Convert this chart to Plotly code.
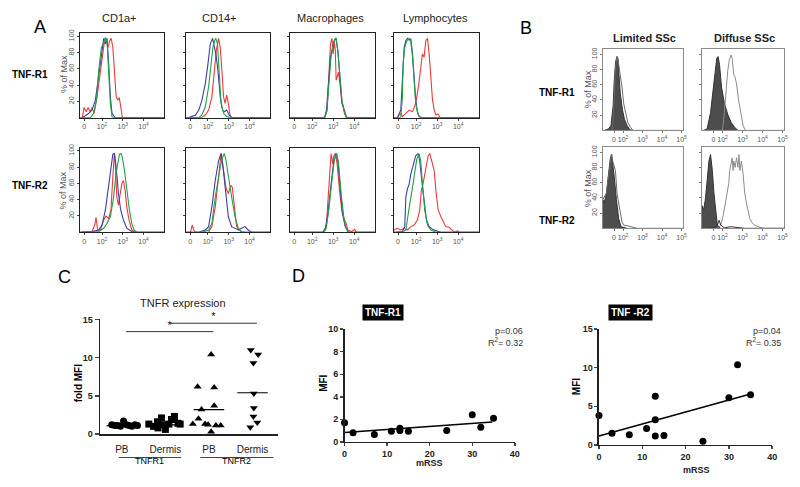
import plotly.graph_objects as go

W, H = 800, 487
FONT = "Liberation Sans"

# ================= Panel A data =================
# u: decade position on the flow axis (2 -> 10^2, 3 -> 10^3, 4 -> 10^4); v: % of Max
a_cols = ["CD1a+", "CD14+", "Macrophages", "Lymphocytes"]
a_rows = ["TNF-R1", "TNF-R2"]
a_xtick_u = [1.14, 2, 3, 4]
a_xtick_text = ["0", "10<sup>2</sup>", "10<sup>3</sup>", "10<sup>4</sup>"]
pct_ticks = [20, 40, 60, 80, 100]

# Row TNF-R1
a_r1_cd1a_red_u = [1.05, 1.14, 1.24, 1.33, 1.43, 1.52, 1.62, 1.76, 1.92, 2.05, 2.13, 2.21, 2.29, 2.37, 2.44, 2.52, 2.60, 2.68, 2.76, 2.83, 2.90, 2.98]
a_r1_cd1a_red_v = [0, 12.6, 7.3, 12.6, 7.3, 12.6, 5.3, 25.6, 58, 86.5, 96.7, 94.6, 86.5, 94.6, 97.5, 86.5, 58, 25.6, 21.5, 24.8, 13.4, 0]
a_r1_cd1a_blue_u = [1.05, 1.37, 1.52, 1.68, 1.84, 1.97, 2.08, 2.16, 2.24, 2.32, 2.40, 2.48, 2.63]
a_r1_cd1a_blue_v = [0, 5.3, 9.3, 21.5, 54, 78.4, 97.5, 90.7, 97.5, 66.2, 25.6, 5.3, 0]
a_r1_cd1a_green_u = [1.44, 1.60, 1.73, 1.84, 1.97, 2.08, 2.16, 2.24, 2.32, 2.40, 2.48, 2.56]
a_r1_cd1a_green_v = [0, 5.3, 21.5, 58, 86.5, 90.7, 98.7, 94.6, 58, 17.5, 1.2, 0]

a_r1_cd14_red_u = [1.71, 1.87, 2.03, 2.19, 2.32, 2.40, 2.51, 2.59, 2.67, 2.75, 2.83, 2.90, 2.98, 3.06, 3.14]
a_r1_cd14_red_v = [0, 3.2, 9.3, 25.6, 58, 82.4, 97.5, 86.5, 58, 25.6, 17.5, 27.6, 17.5, 3.2, 0]
a_r1_cd14_blue_u = [1.08, 1.40, 1.56, 1.71, 1.87, 2.0, 2.11, 2.22, 2.30, 2.38, 2.48, 2.59, 2.70, 2.79, 2.90, 3.02, 3.14]
a_r1_cd14_blue_v = [0, 3.2, 9.3, 21.5, 41.8, 66.2, 90.5, 97.5, 86.5, 78.4, 58, 25.6, 9.3, 7.3, 9.3, 3.2, 0]
a_r1_cd14_green_u = [1.56, 1.71, 1.87, 2.03, 2.16, 2.24, 2.32, 2.38, 2.46, 2.54, 2.63, 2.75, 2.90, 3.14]
a_r1_cd14_green_v = [0, 3.2, 13.4, 37.8, 66.2, 86.5, 94.6, 97.5, 90.5, 49.9, 17.5, 5.3, 1.2, 0]

a_r1_mac_red_u = [2.59, 2.71, 2.79, 2.87, 2.94, 3.0, 3.05, 3.10, 3.14, 3.19, 3.25, 3.32, 3.41, 3.54, 3.63, 3.73]
a_r1_mac_red_v = [0, 9.3, 58, 90.5, 97.5, 78.4, 94.6, 82.4, 45.9, 52, 56, 41.8, 17.5, 9.3, 1.2, 0]
a_r1_mac_blue_u = [2.59, 2.68, 2.78, 2.87, 2.97, 3.06, 3.13, 3.22, 3.32, 3.41, 3.54, 3.63]
a_r1_mac_blue_v = [0, 9.3, 41.8, 74.3, 86.5, 95.4, 97.5, 82.4, 49.9, 21.5, 5.3, 0]
a_r1_mac_green_u = [2.60, 2.70, 2.80, 2.89, 2.98, 3.07, 3.14, 3.23, 3.33, 3.42, 3.55, 3.64]
a_r1_mac_green_v = [0, 8, 40, 73, 87, 96, 98, 80, 48, 20, 5, 0]

a_r1_lym_red_u = [1.11, 1.19, 1.27, 1.35, 1.51, 1.67, 1.83, 1.98, 2.11, 2.22, 2.30, 2.38, 2.46, 2.54, 2.62, 2.70, 2.78, 2.86, 2.94, 3.05, 3.13]
a_r1_lym_red_v = [0, 3.2, 5.3, 1.2, 5.3, 9.3, 7.3, 17.5, 37.8, 66.2, 78.4, 74.3, 94.6, 97.5, 78.4, 49.9, 21.5, 9.3, 3.2, 4.5, 0]
a_r1_lym_blue_u = [1.11, 1.27, 1.35, 1.43, 1.51, 1.59, 1.67, 1.75, 1.83, 1.90, 1.98, 2.06, 2.14, 2.30]
a_r1_lym_blue_v = [0, 9.3, 58, 86.5, 94.6, 97.5, 95.4, 96.6, 78.4, 50, 21.5, 7.3, 1.2, 0]
a_r1_lym_green_u = [1.27, 1.35, 1.38, 1.46, 1.56, 1.67, 1.75, 1.83, 1.90, 1.98, 2.08, 2.17]
a_r1_lym_green_v = [0, 25.6, 66.2, 86.5, 94.6, 97.5, 92.6, 74.3, 45.9, 17.5, 5.3, 0]

# Row TNF-R2
a_r2_cd1a_red_u = [1.05, 1.52, 1.65, 1.71, 1.79, 1.92, 2.08, 2.19, 2.32, 2.43, 2.51, 2.59, 2.63, 2.71, 2.79, 2.87, 2.95, 3.03, 3.11, 3.19, 3.30, 3.43, 3.59]
a_r2_cd1a_red_v = [0, 0.8, 8.9, 18.2, 2.8, 2.8, 15, 19.8, 17, 27.1, 63.6, 96, 87.9, 43.3, 33.2, 45.4, 59.5, 63.6, 51.4, 31.2, 15, 2.8, 0]
a_r2_cd1a_blue_u = [1.05, 1.52, 1.84, 2.0, 2.16, 2.29, 2.40, 2.52, 2.60, 2.68, 2.79, 2.90, 3.03, 3.19, 3.43, 3.59]
a_r2_cd1a_blue_v = [0, 0.8, 2.8, 8.9, 27.1, 51.4, 71.7, 96, 96.8, 79.8, 47.4, 27.1, 15, 4.9, 0.8, 0]
a_r2_cd1a_green_u = [1.37, 1.84, 2.08, 2.24, 2.40, 2.56, 2.67, 2.76, 2.84, 2.92, 2.98, 3.08, 3.19, 3.32, 3.43, 3.54, 3.67]
a_r2_cd1a_green_v = [0, 0.8, 4.9, 10.9, 19, 43.3, 71.7, 87.9, 96, 96.8, 91.9, 75.7, 51.4, 27.1, 10.9, 2.8, 0]

a_r2_cd14_red_u = [1.16, 1.24, 1.32, 1.40, 2.03, 2.19, 2.35, 2.51, 2.63, 2.75, 2.86, 2.98, 3.10, 3.17, 3.27, 3.38, 3.49, 3.62]
a_r2_cd14_red_v = [0, 8.9, 2.8, 0, 0, 6.9, 31.2, 67.6, 96.8, 75.7, 55.5, 47.4, 57.5, 55.5, 31.2, 6.9, 2.8, 0]
a_r2_cd14_blue_u = [1.56, 1.87, 2.03, 2.19, 2.35, 2.51, 2.63, 2.71, 2.83, 2.98, 3.14, 3.30, 3.46, 3.62, 3.78, 3.94, 4.10]
a_r2_cd14_blue_v = [0, 2.8, 6.9, 31.2, 63.6, 87.9, 96.8, 83.8, 51.4, 19, 6.9, 4.9, 2.8, 4.9, 6.9, 2.8, 0]
a_r2_cd14_green_u = [1.71, 2.03, 2.19, 2.35, 2.48, 2.59, 2.70, 2.79, 2.87, 2.98, 3.14, 3.30, 3.46, 3.62, 3.78]
a_r2_cd14_green_v = [0, 2.8, 10.9, 43.3, 63.6, 79.8, 91.9, 96.8, 87.9, 67.6, 43.3, 19, 4.9, 0.8, 0]

a_r2_mac_red_u = [2.51, 2.67, 2.75, 2.83, 2.90, 2.98, 3.03, 3.10, 3.19, 3.30, 3.41, 3.54, 3.62, 3.70, 3.86, 4.02, 4.10]
a_r2_mac_red_v = [0, 6.9, 35.2, 71.7, 96.8, 83.8, 93.9, 96.8, 83.8, 51.4, 27.1, 15, 10.9, 2.8, 0.8, 3.6, 0]
a_r2_mac_blue_u = [2.51, 2.63, 2.75, 2.90, 3.03, 3.14, 3.22, 3.33, 3.44, 3.57, 3.70, 3.78]
a_r2_mac_blue_v = [0, 4.9, 23.1, 59.5, 87.9, 96.8, 87.9, 55.5, 23.1, 6.9, 0.8, 0]
a_r2_mac_green_u = [2.56, 2.67, 2.79, 2.94, 3.06, 3.17, 3.25, 3.38, 3.51, 3.62, 3.73]
a_r2_mac_green_v = [0, 4.9, 27.1, 63.6, 89.9, 96.8, 85.9, 47.4, 17, 4.9, 0]

a_r2_lym_red_u = [0.95, 1.11, 1.27, 1.43, 1.59, 1.75, 1.90, 2.06, 2.17, 2.25, 2.33, 2.41, 2.49, 2.57, 2.65, 2.73, 2.78, 2.86, 2.94, 3.05, 3.18, 3.29, 3.41, 3.57, 3.70, 3.81, 3.97, 4.05]
a_r2_lym_red_v = [2.8, 4.9, 2.8, 4.9, 2.8, 6.9, 8.9, 15, 27.1, 51.4, 59.5, 71.7, 79.8, 93.9, 96.8, 87.9, 83.8, 75.7, 51.4, 27.1, 19, 13, 6.9, 6.1, 2.8, 0, 1.6, 0]
a_r2_lym_blue_u = [1.03, 1.35, 1.46, 1.51, 1.59, 1.67, 1.75, 1.86, 1.98, 2.10, 2.17, 2.27, 2.38, 2.49, 2.62, 2.78, 2.94, 3.18]
a_r2_lym_blue_v = [0, 0.8, 6.9, 43.3, 53.5, 59.5, 71.7, 83.8, 93.9, 96.8, 87.9, 63.6, 35.2, 15, 6.9, 3.6, 2, 0]
a_r2_lym_green_u = [1.35, 1.51, 1.62, 1.70, 1.83, 1.94, 2.03, 2.14, 2.22, 2.30, 2.41, 2.54, 2.70, 2.94]
a_r2_lym_green_v = [0, 2.8, 19, 35.2, 55.5, 75.7, 89.9, 96.8, 87.9, 59.5, 27.1, 8.9, 2.8, 0]

# ================= Panel B data =================
b_cols = ["Limited SSc", "Diffuse SSc"]
b_xtick_u = [1.54, 2, 3, 4, 5]
b_xtick_text = ["0", "10<sup>2</sup>", "10<sup>3</sup>", "10<sup>4</sup>", "10<sup>5</sup>"]

b_lim_r1_fill_u = [1.04, 1.27, 1.38, 1.49, 1.55, 1.62, 1.69, 1.74, 1.79, 1.86, 1.97, 2.07, 2.21, 2.34, 2.46]
b_lim_r1_fill_v = [0, 2.1, 6.3, 31.7, 65.4, 90.7, 97.1, 95, 73.9, 48.5, 27.4, 14.8, 6.3, 1.3, 0]
b_lim_r1_line_u = [1.44, 1.52, 1.61, 1.69, 1.78, 1.86, 1.95, 2.03, 2.12, 2.24, 2.38, 2.51]
b_lim_r1_line_v = [0, 23.2, 82.3, 97.1, 86.5, 71.7, 57, 35.9, 23.2, 10.6, 4.2, 0]

b_dif_r1_fill_u = [1.06, 1.23, 1.40, 1.57, 1.71, 1.78, 1.85, 1.95, 2.09, 2.26, 2.43, 2.60, 2.77]
b_dif_r1_fill_v = [0, 2.1, 23.2, 65.4, 95, 97.1, 86.5, 57, 35.9, 21.1, 10.6, 4.2, 0]
b_dif_r1_line_u = [2.0, 2.09, 2.17, 2.26, 2.34, 2.43, 2.48, 2.56, 2.63, 2.70, 2.80, 2.91, 3.03, 3.14]
b_dif_r1_line_v = [0, 23.2, 52.8, 78.1, 92.8, 99.2, 95, 73.9, 69.6, 61.2, 40.1, 23.2, 6.3, 0]

b_lim_r2_fill_u = [0.97, 1.04, 1.15, 1.27, 1.35, 1.42, 1.49, 1.55, 1.66, 1.78, 1.90, 2.03, 2.21]
b_lim_r2_fill_v = [38, 33.8, 46.4, 71.7, 92.8, 97.1, 84.4, 67.5, 38, 12.7, 2.1, 0.8, 0]
b_lim_r2_line_u = [0.97, 1.15, 1.27, 1.35, 1.40, 1.49, 1.61, 1.69, 1.78, 1.86, 1.95, 2.03, 2.21, 2.46, 2.72]
b_lim_r2_line_v = [38, 46.4, 71.7, 92.8, 97.1, 86.5, 76, 46.4, 29.5, 21.1, 8.4, 4.2, 3.4, 2.1, 0]

b_dif_r2_fill_u = [0.97, 1.06, 1.15, 1.23, 1.32, 1.40, 1.49, 1.57, 1.66, 1.74, 1.91]
b_dif_r2_fill_v = [30, 25, 40, 67.5, 88.6, 97.1, 76, 46.4, 21.1, 4.2, 0]
b_dif_r2_dark_u = [1.06, 1.57, 1.74, 1.83, 1.91, 2.09, 2.43, 2.77, 3.11]
b_dif_r2_dark_v = [0, 0.8, 4.2, 10.6, 4.2, 0.8, 2.1, 0.8, 0]
b_dif_r2_line_u = [1.74, 1.91, 2.0, 2.09, 2.17, 2.26, 2.31, 2.36, 2.43, 2.48, 2.53, 2.56, 2.63, 2.70, 2.77, 2.82, 2.87, 2.94, 3.03, 3.11, 3.19, 3.28, 3.37, 3.45, 3.59, 3.79, 4.05]
b_dif_r2_line_v = [0, 4.2, 12.7, 25.3, 38, 50.6, 59.1, 76, 88.6, 92.8, 76, 88.6, 80.2, 92.8, 80.2, 97.1, 76, 88.6, 71.7, 46.4, 33.8, 21.1, 12.7, 8.4, 4.2, 2.1, 0]

# ================= Panel C data =================
c_cat_labels = ["PB", "Dermis", "PB", "Dermis"]
c_groups = ["TNFR1", "TNFR2"]
c_tnfr1_pb = [1.2, 1.1, 1.1, 1.7, 1.0, 1.2, 1.1, 1.0, 1.2, 1.1]
c_tnfr1_pb_jit = [-0.23, -0.16, -0.09, 0.04, -0.03, 0.11, 0.17, 0.23, 0.30, 0.36]
c_tnfr1_dermis = [1.3, 1.0, 0.8, 1.6, 2.1, 1.2, 0.6, 1.3, 1.9, 2.3, 1.4, 1.3]
c_tnfr1_dermis_jit = [-0.38, -0.27, -0.17, -0.18, -0.09, -0.03, 0.0, 0.08, 0.14, 0.21, 0.29, 0.34]
c_tnfr2_pb = [10.4, 6.2, 6.1, 3.7, 3.2, 2.0, 1.3, 1.3, 1.2, 1.1, 1.1, 0.3]
c_tnfr2_pb_jit = [0.05, -0.26, 0.12, 0.12, -0.17, -0.24, -0.37, -0.09, -0.02, 0.16, 0.27, 0.05]
c_tnfr2_dermis = [11.0, 10.4, 9.3, 5.3, 3.4, 2.3, 1.5, 0.9]
c_tnfr2_dermis_jit = [-0.04, 0.13, 0.02, 0.03, 0.03, 0.02, 0.11, -0.05]
c_medians = [1.1, 1.2, 3.2, 5.4]
c_sig_pairs = [(1, 3, 13.4), (2, 4, 14.5)]

# ================= Panel D data =================
d_r1_mrss = [0, 2, 7, 11, 13, 13, 15, 24, 30, 32, 35]
d_r1_mfi = [1.7, 0.8, 0.65, 0.93, 1.2, 1.0, 0.93, 1.0, 2.4, 1.3, 2.1]
d_r1_fit_x = [0, 34.7]
d_r1_fit_y = [0.84, 1.77]
d_r2_mrss = [0, 3, 7, 11, 13, 13, 13, 15, 24, 30, 32, 35]
d_r2_mfi = [3.8, 1.5, 1.3, 2.1, 6.3, 3.25, 1.15, 1.2, 0.45, 6.1, 10.4, 6.5]
d_r2_fit_x = [0, 35]
d_r2_fit_y = [1.15, 6.6]
d_stats = [("p=0.06", "R<sup>2</sup>= 0.32"), ("p=0.04", "R<sup>2</sup>= 0.35")]

# ================= figure construction =================
RED, BLUE, GREEN = "#ec3a3a", "#3d3da6", "#20a048"


def px(x):
    return x / W


def py(y):
    return 1 - y / H


fig = go.Figure()
layout = {}
annotations = []
shapes = []
_n = [0]


def new_axes(x0, x1, y0, y1, xopts, yopts):
    _n[0] += 1
    n = _n[0]
    sfx = "" if n == 1 else str(n)
    layout["xaxis" + sfx] = dict(domain=[px(x0), px(x1)], anchor="y" + sfx,
                                 showgrid=False, zeroline=False, fixedrange=True, **xopts)
    layout["yaxis" + sfx] = dict(domain=[py(y1), py(y0)], anchor="x" + sfx,
                                 showgrid=False, zeroline=False, fixedrange=True, **yopts)
    return "x" + sfx, "y" + sfx


def ann(text, x, y, size=10, bold=False, color="black", angle=0, xanchor="center",
        yanchor="middle", **kw):
    d = dict(text=text, x=px(x), y=py(y), xref="paper", yref="paper", showarrow=False,
             font=dict(family=FONT, size=size, color=color, weight="bold" if bold else "normal"),
             textangle=angle, xanchor=xanchor, yanchor=yanchor)
    d.update(kw)
    annotations.append(d)


def with_base(u, v, lo, hi):
    u, v = list(u), list(v)
    if v[0] == 0:
        u, v = [lo] + u, [0] + v
    if v[-1] == 0:
        u, v = u + [hi], v + [0]
    return u, v


# ---------- Panel A ----------
A_U = (0.95, 5.0)
A_V = (0, 103.6)
a_box_x = [(78, 163), (185, 270), (290, 376), (395, 481)]
a_box_y = [(29, 115), (146, 232)]
a_data = {
    (0, 0): [(a_r1_cd1a_red_u, a_r1_cd1a_red_v), (a_r1_cd1a_blue_u, a_r1_cd1a_blue_v), (a_r1_cd1a_green_u, a_r1_cd1a_green_v)],
    (0, 1): [(a_r1_cd14_red_u, a_r1_cd14_red_v), (a_r1_cd14_blue_u, a_r1_cd14_blue_v), (a_r1_cd14_green_u, a_r1_cd14_green_v)],
    (0, 2): [(a_r1_mac_red_u, a_r1_mac_red_v), (a_r1_mac_blue_u, a_r1_mac_blue_v), (a_r1_mac_green_u, a_r1_mac_green_v)],
    (0, 3): [(a_r1_lym_red_u, a_r1_lym_red_v), (a_r1_lym_blue_u, a_r1_lym_blue_v), (a_r1_lym_green_u, a_r1_lym_green_v)],
    (1, 0): [(a_r2_cd1a_red_u, a_r2_cd1a_red_v), (a_r2_cd1a_blue_u, a_r2_cd1a_blue_v), (a_r2_cd1a_green_u, a_r2_cd1a_green_v)],
    (1, 1): [(a_r2_cd14_red_u, a_r2_cd14_red_v), (a_r2_cd14_blue_u, a_r2_cd14_blue_v), (a_r2_cd14_green_u, a_r2_cd14_green_v)],
    (1, 2): [(a_r2_mac_red_u, a_r2_mac_red_v), (a_r2_mac_blue_u, a_r2_mac_blue_v), (a_r2_mac_green_u, a_r2_mac_green_v)],
    (1, 3): [(a_r2_lym_red_u, a_r2_lym_red_v), (a_r2_lym_blue_u, a_r2_lym_blue_v), (a_r2_lym_green_u, a_r2_lym_green_v)],
}
tickf = dict(family=FONT, size=7, color="#555")
for r in range(2):
    for c in range(4):
        x0, x1 = a_box_x[c]
        y0, y1 = a_box_y[r]
        xr, yr = new_axes(
            x0, x1, y0, y1,
            dict(range=list(A_U), showline=True, mirror=True, linecolor="#222", linewidth=1,
                 ticks="outside", ticklen=2, tickcolor="#444", tickvals=a_xtick_u,
                 ticktext=a_xtick_text, tickfont=tickf, tickangle=0),
            dict(range=list(A_V), showline=True, mirror=True, linecolor="#222", linewidth=1,
                 ticks="outside", ticklen=2, tickcolor="#444", tickvals=pct_ticks,
                 showticklabels=(c == 0), tickangle=-90, tickfont=tickf))
        for (u, v), col in zip(a_data[(r, c)], [RED, BLUE, GREEN]):
            uu, vv = with_base(u, v, *A_U)
            fig.add_trace(go.Scatter(x=uu, y=vv, xaxis=xr, yaxis=yr, mode="lines",
                                     line=dict(color=col, width=1.1), hoverinfo="skip"))

a_col_x = [118, 219, 331, 437]
for t, x in zip(a_cols, a_col_x):
    ann(t, x, 13, size=11, color="#222")
ann("A", 37, 22, size=18)
ann("TNF-R1", 27, 71, size=10, bold=True)
ann("TNF-R2", 27, 184, size=10, bold=True)
for yc in (70, 189):
    ann("% of Max", 61, yc, size=9, color="#555", angle=-90)

# ---------- Panel B ----------
B_U = (0.97, 5.08)
B_V = (0, 107)
b_box_x = [(606, 687), (706, 789)]
b_box_y = [(45, 128), (145, 228)]
FILLC, LIMLINE, DIFLINE = "#4d4d4d", "#6a6a6a", "#8c8c8c"
b_data = {
    (0, 0): [("fill", b_lim_r1_fill_u, b_lim_r1_fill_v), ("line", b_lim_r1_line_u, b_lim_r1_line_v, LIMLINE)],
    (0, 1): [("fill", b_dif_r1_fill_u, b_dif_r1_fill_v), ("line", b_dif_r1_line_u, b_dif_r1_line_v, DIFLINE)],
    (1, 0): [("fill", b_lim_r2_fill_u, b_lim_r2_fill_v), ("line", b_lim_r2_line_u, b_lim_r2_line_v, LIMLINE)],
    (1, 1): [("fill", b_dif_r2_fill_u, b_dif_r2_fill_v), ("line", b_dif_r2_line_u, b_dif_r2_line_v, DIFLINE),
             ("line", b_dif_r2_dark_u, b_dif_r2_dark_v, "#333")],
}
for r in range(2):
    for c in range(2):
        x0, x1 = b_box_x[c]
        y0, y1 = b_box_y[r]
        xr, yr = new_axes(
            x0, x1, y0, y1,
            dict(range=list(B_U), showline=True, mirror=True, linecolor="#8a8a8a", linewidth=1,
                 ticks="outside", ticklen=2, tickcolor="#777", tickvals=b_xtick_u,
                 ticktext=b_xtick_text, tickfont=tickf, tickangle=0),
            dict(range=list(B_V), showline=True, mirror=True, linecolor="#8a8a8a", linewidth=1,
                 ticks="outside", ticklen=2, tickcolor="#777", tickvals=pct_ticks,
                 showticklabels=(c == 0), tickangle=-90, tickfont=tickf))
        for item in b_data[(r, c)]:
            if item[0] == "fill":
                fig.add_trace(go.Scatter(x=item[1], y=item[2], xaxis=xr, yaxis=yr, mode="lines",
                                         fill="tozeroy", fillcolor=FILLC,
                                         line=dict(color="#333", width=1), hoverinfo="skip"))
            else:
                uu, vv = with_base(item[1], item[2], *B_U)
                fig.add_trace(go.Scatter(x=uu, y=vv, xaxis=xr, yaxis=yr, mode="lines",
                                         line=dict(color=item[3], width=1), hoverinfo="skip"))
ann("B", 528, 23, size=18)
ann("Limited SSc", 648, 34, size=11, bold=True, color="#222")
ann("Diffuse SSc", 749, 34, size=11, bold=True, color="#222")
ann("TNF-R1", 560, 89, size=10, bold=True)
ann("TNF-R2", 560, 220, size=10, bold=True)
for yc in (86, 187):
    ann("% of Max", 591, yc, size=9, color="#555", angle=-90)

# ---------- Panel C ----------
xc, yc_ = new_axes(
    98, 278, 321, 438,
    dict(range=[0.5, 4.59], showline=True, linecolor="#222", linewidth=1.5, ticks="outside",
         ticklen=5, tickcolor="rgba(0,0,0,0)",
         tickvals=[1, 2, 3, 4], ticktext=c_cat_labels, tickfont=dict(family=FONT, size=10, color="#222")),
    dict(range=[0, 15], showline=True, linecolor="#222", linewidth=1.5, ticks="outside",
         ticklen=4, tickwidth=1.5, tickvals=[0, 5, 10, 15],
         tickfont=dict(family=FONT, size=9, color="#222", weight="bold")))
c_sets = [(c_tnfr1_pb, c_tnfr1_pb_jit, "circle"), (c_tnfr1_dermis, c_tnfr1_dermis_jit, "square"),
          (c_tnfr2_pb, c_tnfr2_pb_jit, "triangle-up"), (c_tnfr2_dermis, c_tnfr2_dermis_jit, "triangle-down")]
for i, (vals, jit, sym) in enumerate(c_sets):
    cat = i + 1
    fig.add_trace(go.Scatter(x=[cat + j for j in jit], y=vals, xaxis=xc, yaxis=yc_, mode="markers",
                             marker=dict(symbol=sym, size=7, color="black"), cliponaxis=False,
                             hoverinfo="skip"))
    fig.add_trace(go.Scatter(x=[cat - 0.35, cat + 0.35], y=[c_medians[i]] * 2, xaxis=xc, yaxis=yc_,
                             mode="lines", line=dict(color="black", width=1.2), hoverinfo="skip"))
for a, b, yv in c_sig_pairs:
    fig.add_trace(go.Scatter(x=[a + 0.1, b + 0.1], y=[yv, yv], xaxis=xc, yaxis=yc_, mode="lines",
                             line=dict(color="#333", width=1), hoverinfo="skip", cliponaxis=False))
    fig.add_trace(go.Scatter(x=[(a + b) / 2 + 0.1], y=[yv], xaxis=xc, yaxis=yc_, mode="text",
                             text=["*"], textposition="top center", cliponaxis=False,
                             textfont=dict(family=FONT, size=11, color="#111"), hoverinfo="skip"))
# group underlines
for (g0, g1), name in zip([(0.93, 2.36), (2.80, 4.48)], c_groups):
    shapes.append(dict(type="line", xref=xc, yref="paper", x0=g0, x1=g1, y0=py(462), y1=py(462),
                       line=dict(color="#444", width=1)))
    annotations.append(dict(text=name, x=(g0 + g1) / 2, y=py(473), xref=xc, yref="paper",
                            showarrow=False, font=dict(family=FONT, size=9, color="black")))
ann("C", 62, 278, size=18)
ann("TNFR expression", 182, 304, size=11, color="#222")
ann("fold MFI", 76, 386, size=10, bold=True, angle=-90)

# ---------- Panel D ----------
d_specs = [
    dict(box=(345, 517, 331, 446), yr=[0, 10], yt=[0, 2, 4, 6, 8, 10], x=d_r1_mrss, y=d_r1_mfi,
         fx=d_r1_fit_x, fy=d_r1_fit_y, label="TNF-R1", lab_xy=(384, 314), mrss_xy=(431, 468),
         mfi_xy=(323, 386), stats=d_stats[0], stat_x=527),
    dict(box=(602, 777, 331, 449), yr=[0, 15], yt=[0, 5, 10, 15], x=d_r2_mrss, y=d_r2_mfi,
         fx=d_r2_fit_x, fy=d_r2_fit_y, label="TNF -R2", lab_xy=(634, 314), mrss_xy=(700, 475),
         mfi_xy=(580, 390), stats=d_stats[1], stat_x=788),
]
boldtick = dict(family=FONT, size=9, color="#222", weight="bold")
for s in d_specs:
    x0, x1, y0, y1 = s["box"]
    xr, yr = new_axes(
        x0, x1, y0, y1,
        dict(range=[0, 40], showline=True, linecolor="#222", linewidth=1.5, ticks="outside",
             ticklen=3, tickwidth=1.5, tickvals=[0, 10, 20, 30, 40], tickfont=boldtick),
        dict(range=s["yr"], showline=True, linecolor="#222", linewidth=1.5, ticks="outside",
             ticklen=3, tickwidth=1.5, tickvals=s["yt"], tickfont=boldtick))
    fig.add_trace(go.Scatter(x=s["fx"], y=s["fy"], xaxis=xr, yaxis=yr, mode="lines",
                             line=dict(color="black", width=1.5), hoverinfo="skip"))
    fig.add_trace(go.Scatter(x=s["x"], y=s["y"], xaxis=xr, yaxis=yr, mode="markers",
                             marker=dict(size=7, color="black"), cliponaxis=False, hoverinfo="skip"))
    ann("<b>%s</b>" % s["label"], s["lab_xy"][0], s["lab_xy"][1], size=10, color="white",
        bgcolor="black", borderpad=2)
    ann("mRSS", s["mrss_xy"][0], s["mrss_xy"][1], size=9, bold=True, color="#222")
    ann("MFI", s["mfi_xy"][0], s["mfi_xy"][1], size=10, bold=True, angle=-90)
    ann(s["stats"][0], s["stat_x"], 333, size=9, color="#333", xanchor="right")
    ann(s["stats"][1], s["stat_x"], 344, size=9, color="#333", xanchor="right")
ann("D", 298, 277, size=18)

layout.update(dict(width=W, height=H, margin=dict(l=0, r=0, t=0, b=0), showlegend=False,
                   plot_bgcolor="white", paper_bgcolor="white", annotations=annotations,
                   shapes=shapes, font=dict(family=FONT), hovermode=False))
fig.update_layout(**layout)

page_fix = (
    "var s='margin:0;padding:0;overflow:hidden;width:800px;height:487px;';"
    "document.documentElement.style.cssText=s;document.body.style.cssText=s;"
    "var g=document.getElementById('{plot_id}');"
    "if(g&&g.parentElement){g.parentElement.style.cssText=s;}"
)
fig.write_html("out.html", config={"displayModeBar": False, "staticPlot": True},
               post_script=[page_fix])
